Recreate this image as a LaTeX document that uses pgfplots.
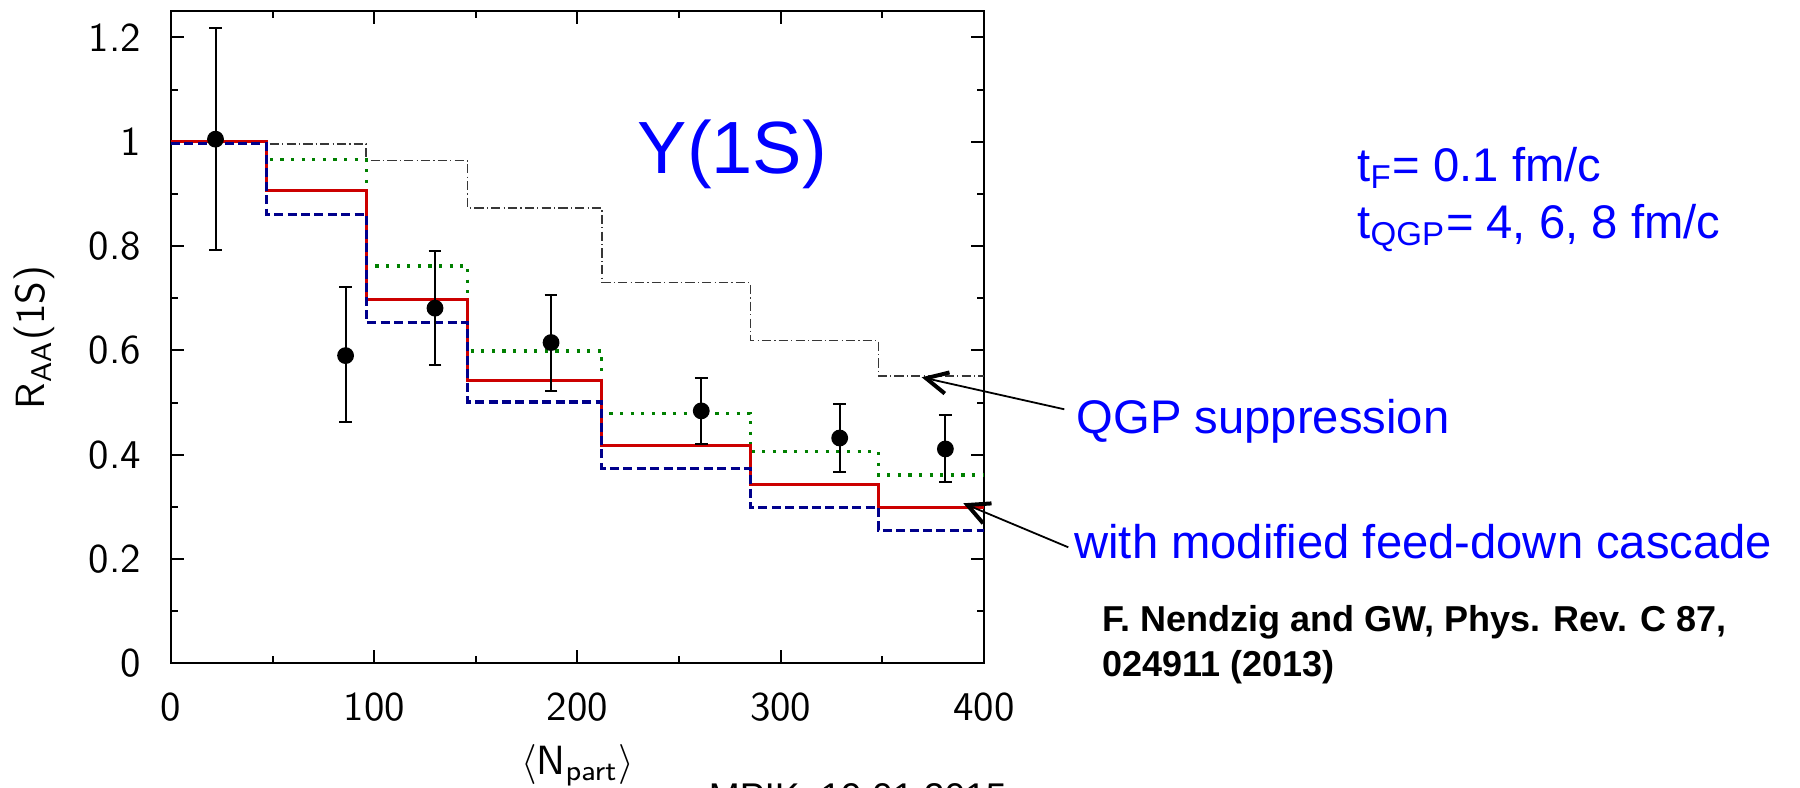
\documentclass[border=0pt]{standalone}
\usepackage{fontspec}
\usepackage{pgfplots}
\pgfplotsset{compat=1.18}
\usetikzlibrary{arrows.meta}
\newfontfamily\arial{Liberation Sans}
\definecolor{cred}{RGB}{204,0,0}
\definecolor{cnavy}{RGB}{0,0,140}
\definecolor{cgreen}{RGB}{0,128,0}
\definecolor{cgray}{RGB}{55,55,55}
\definecolor{tblue}{RGB}{0,0,255}
\begin{document}
\begin{tikzpicture}
\begin{axis}[
  at={(42.75pt,-165.825pt)}, anchor=south west,
  scale only axis, width=203.25pt, height=162.97pt,
  xmin=0, xmax=400, ymin=0, ymax=1.25,
  axis line style={line width=0.5pt},
  xtick={0,100,...,400}, ytick={0,0.2,0.4,0.6,0.8,1,1.2},
  minor x tick num=1, minor y tick num=1,
  tick align=inside, xtick pos=both, ytick pos=both,
  xticklabel pos=lower, yticklabel pos=left,
  major tick length=3.2pt, minor tick length=1.7pt,
  every tick/.style={line width=0.5pt, black},
  tick label style={font=\sffamily\fontsize{10.2}{12}\selectfont},
  label style={font=\sffamily\fontsize{10.2}{12}\selectfont},
  /pgf/number format/assume math mode=true,
  yticklabel style={anchor=east, xshift=-4pt},
  xticklabel style={anchor=base, yshift=-14.2pt},
  ylabel={R\textsubscript{AA}(1S)},
  ylabel style={at={(axis description cs:-0.155,0.5)}, anchor=base},
  xlabel={$\langle$N\textsubscript{part}$\rangle$},
  xlabel style={at={(axis description cs:0.5,-0.1713)}, anchor=base},
]
% QGP suppression only (grey dash-dot)
\addplot[cgray, mark=none, line width=0.35pt, dash pattern=on 2.3pt off 0.8pt on 0.3pt off 0.8pt, const plot]
  coordinates {(0,1.0) (47,0.996) (96,0.964) (146,0.873) (212,0.730) (285,0.619) (348,0.551) (400,0.551)};
% green dotted
\addplot[cgreen, mark=none, line width=0.8pt, dash pattern=on 0.8pt off 1.85pt, const plot]
  coordinates {(0,1.0) (47,0.966) (96,0.762) (146,0.599) (212,0.479) (285,0.406) (348,0.361) (400,0.361)};
% red solid
\addplot[cred, mark=none, line width=0.8pt, const plot]
  coordinates {(0,1.0) (47,0.907) (96,0.697) (146,0.542) (212,0.418) (285,0.343) (348,0.299) (400,0.299)};
% navy dashed
\addplot[cnavy, mark=none, line width=0.8pt, dash pattern=on 2.25pt off 1.1pt, const plot]
  coordinates {(0,0.997) (47,0.861) (96,0.654) (146,0.501) (212,0.374) (285,0.299) (348,0.255) (400,0.255)};
% data
\addplot[black, only marks, mark=*, mark size=1.9pt,
  error bars/.cd, y dir=both, y explicit,
  error bar style={line width=0.5pt, black},
  error mark options={rotate=90, mark size=1.6pt, line width=0.5pt, black}]
  coordinates {
  (21.9,1.005) += (0,0.214) -= (0,0.212)
  (85.9,0.590) += (0,0.131) -= (0,0.128)
  (129.9,0.681) += (0,0.110) -= (0,0.109)
  (187.0,0.615) += (0,0.091) -= (0,0.092)
  (260.9,0.484) += (0,0.063) -= (0,0.063)
  (329.0,0.432) += (0,0.066) -= (0,0.066)
  (381.0,0.411) += (0,0.065) -= (0,0.064)
  };
\end{axis}
\begin{scope}[x=0.25pt,y=-0.25pt]
\node[anchor=base west, inner sep=0, text=tblue, font=\arial\fontsize{18.5}{22}\selectfont] at (637,173.3) {Y(1S)};
\node[anchor=base west, inner sep=0, text=tblue, font=\arial\fontsize{11.8}{14}\selectfont] at (1356.7,181.7) {t\textsubscript{F}= 0.1 fm/c};
\node[anchor=base west, inner sep=0, text=tblue, font=\arial\fontsize{11.8}{14}\selectfont] at (1356.7,238.3) {t\textsubscript{QGP}= 4, 6, 8 fm/c};
\node[anchor=base west, inner sep=0, text=tblue, font=\arial\fontsize{11.8}{14}\selectfont] at (1076,433.3) {QGP suppression};
\node[anchor=base west, inner sep=0, text=tblue, font=\arial\fontsize{11.8}{14}\selectfont] at (1073.6,558.3) {with modified feed-down cascade};
\node[anchor=base west, inner sep=0, font=\arial\bfseries\fontsize{9}{11}\selectfont] at (1101.7,631.7) {F. Nendzig and GW, Phys. Rev. C 87,};
\node[anchor=base west, inner sep=0, font=\arial\bfseries\fontsize{9}{11}\selectfont] at (1101.7,676.7) {024911 (2013)};
\node[anchor=base west, inner sep=0, font=\arial\fontsize{9.3}{11}\selectfont] at (708,809.8) {MPIK, 19.01.2015};
\draw[line width=0.45pt, -{Straight Barb[length=5.4pt, width=5.4pt, line width=1pt]}] (1064.3,409.3) -- (921.7,377.3);
\draw[line width=0.45pt, -{Straight Barb[length=5.4pt, width=5.4pt, line width=1pt]}] (1068.3,547.3) -- (963.3,503.3);
\pgfresetboundingbox
\path[use as bounding box] (0,0) rectangle (1800,788);
\end{scope}
\end{tikzpicture}
\end{document}
